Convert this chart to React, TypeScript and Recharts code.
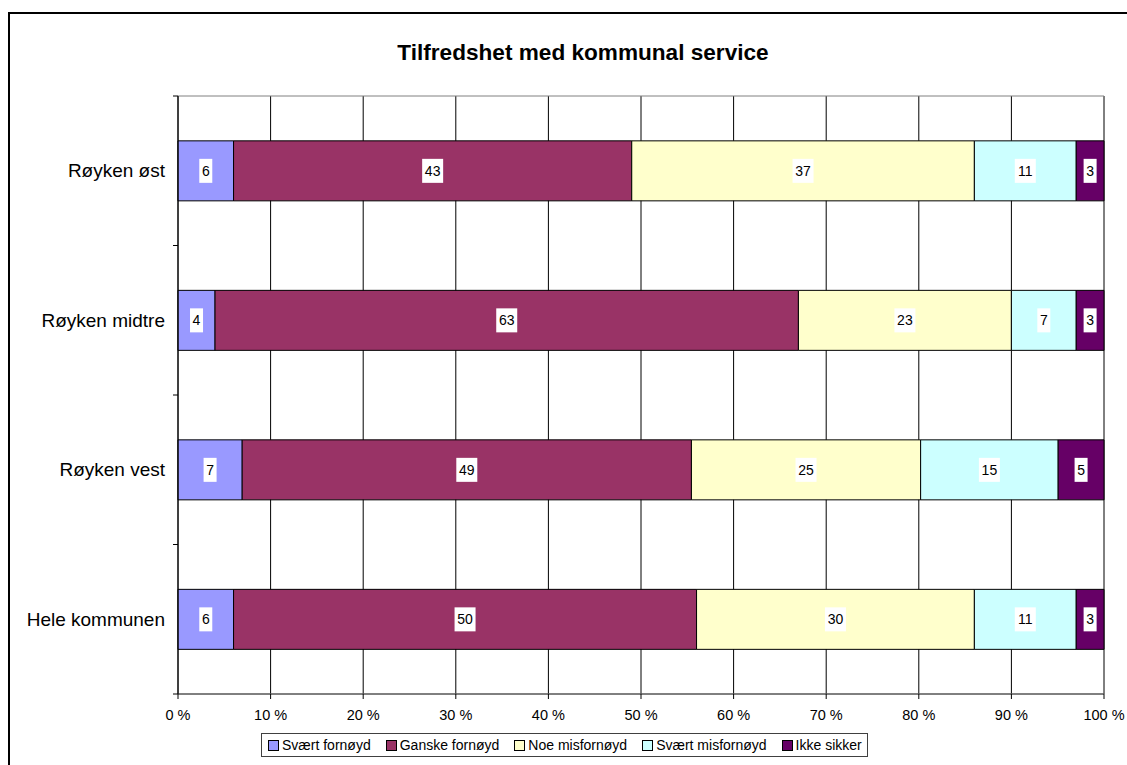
import React from 'react';
import { BarChart, Bar, XAxis, YAxis, CartesianGrid, LabelList, Legend, ReferenceArea } from 'recharts';

const FONT = 'Arial, "Liberation Sans", sans-serif';

const categories = ['Røyken øst', 'Røyken midtre', 'Røyken vest', 'Hele kommunen'];
const sværtFornøyd = [6, 4, 7, 6];
const ganskeFornøyd = [43, 63, 49, 50];
const noeMisfornøyd = [37, 23, 25, 30];
const sværtMisfornøyd = [11, 7, 15, 11];
const ikkeSikker = [3, 3, 5, 3];
const xTicks = [0, 0.1, 0.2, 0.3, 0.4, 0.5, 0.6, 0.7, 0.8, 0.9, 1];

const SERIES = [
  { key: 'sf', name: 'Svært fornøyd', color: '#9999FF', values: sværtFornøyd },
  { key: 'gf', name: 'Ganske fornøyd', color: '#993366', values: ganskeFornøyd },
  { key: 'nm', name: 'Noe misfornøyd', color: '#FFFFCC', values: noeMisfornøyd },
  { key: 'sm', name: 'Svært misfornøyd', color: '#CCFFFF', values: sværtMisfornøyd },
  { key: 'ik', name: 'Ikke sikker', color: '#660066', values: ikkeSikker },
];

const data = categories.map((name, i) => {
  const row: Record<string, string | number> = { name };
  SERIES.forEach((s) => {
    row[s.key] = s.values[i];
  });
  return row;
});

function ValueLabel(props: any) {
  const { x, y, width, height, value } = props;
  const s = String(value);
  const w = s.length * 8 + 5;
  const h = 24;
  const cx = x + width / 2;
  const cy = y + height / 2;
  return (
    <g>
      <rect x={cx - w / 2} y={cy - h / 2} width={w} height={h} fill="#fff" />
      <text x={cx} y={cy} dy="0.355em" textAnchor="middle" fontSize={14} fontFamily={FONT} fill="#000">
        {s}
      </text>
    </g>
  );
}

function CategoryTick(props: any) {
  const { x, y, payload, index, visibleTicksCount } = props;
  const off = payload.offset ?? 0;
  const lx = x + 8;
  return (
    <g>
      <line x1={lx} x2={lx + 5} y1={y - off} y2={y - off} stroke="#000" />
      {index === visibleTicksCount - 1 && (
        <line x1={lx} x2={lx + 5} y1={y + off} y2={y + off} stroke="#000" />
      )}
      <text x={x} y={y} dy="0.355em" textAnchor="end" fontSize={19} fontFamily={FONT} fill="#000">
        {payload.value}
      </text>
    </g>
  );
}

function LegendBox() {
  return (
    <div
      style={{
        display: 'inline-flex',
        alignItems: 'center',
        boxSizing: 'border-box',
        height: 24,
        border: '1px solid #404040',
        padding: '0 5px 0 6px',
        fontSize: 14,
        fontFamily: FONT,
        background: '#fff',
        whiteSpace: 'nowrap',
        color: '#000',
      }}
    >
      {SERIES.map((s, i) => (
        <span
          key={s.key}
          style={{ display: 'inline-flex', alignItems: 'center', marginRight: i < SERIES.length - 1 ? 15 : 0 }}
        >
          <span
            style={{
              display: 'inline-block',
              boxSizing: 'border-box',
              width: 11,
              height: 11,
              background: s.color,
              border: '1px solid #000',
              marginRight: 3,
            }}
          />
          {s.name}
        </span>
      ))}
    </div>
  );
}

export default function App() {
  return (
    <div style={{ position: 'absolute', left: 0, top: 0, width: 1127, height: 765, overflow: 'hidden', background: '#fff' }}>
      <div
        style={{
          position: 'absolute',
          left: 8,
          top: 12,
          width: 1127,
          height: 765,
          borderLeft: '2px solid #000',
          borderTop: '2px solid #000',
        }}
      />
      <div
        style={{
          position: 'absolute',
          left: 0,
          width: 1166,
          top: 40,
          textAlign: 'center',
          fontFamily: FONT,
          fontWeight: 'bold',
          fontSize: 22.6,
          color: '#000',
        }}
      >
        Tilfredshet med kommunal service
      </div>
      <div style={{ position: 'absolute', left: 0, top: 0 }}>
        <BarChart
          width={1127}
          height={765}
          data={data}
          layout="vertical"
          stackOffset="expand"
          barCategoryGap="30%"
          margin={{ top: 96, right: 23, bottom: 0, left: 0 }}
        >
          <CartesianGrid horizontal={false} stroke="#000" />
          <ReferenceArea x1={0} x2={1} fill="none" stroke="#808080" ifOverflow="visible" />
          <XAxis
            type="number"
            domain={[0, 1]}
            ticks={xTicks}
            tickFormatter={(v: number) => `${Math.round(v * 100)} %`}
            height={71}
            tickSize={5}
            tickMargin={11}
            axisLine={{ stroke: '#404040' }}
            tickLine={{ stroke: '#000' }}
            tick={{ fontSize: 14.5, fontFamily: FONT, fill: '#000' }}
            interval={0}
          />
          <YAxis
            type="category"
            dataKey="name"
            width={178}
            tickSize={5}
            tickMargin={8}
            axisLine={{ stroke: '#000' }}
            tickLine={{ stroke: 'none' }}
            tick={<CategoryTick />}
            interval={0}
          />
          {SERIES.map((s) => (
            <Bar
              key={s.key}
              dataKey={s.key}
              name={s.name}
              stackId="a"
              fill={s.color}
              stroke="#000"
              strokeWidth={1}
              isAnimationActive={false}
            >
              <LabelList dataKey={s.key} content={<ValueLabel />} />
            </Bar>
          ))}
          <Legend
            layout="horizontal"
            verticalAlign="middle"
            align="center"
            content={<LegendBox />}
            wrapperStyle={{ left: 261, top: 733, width: 'auto', height: 'auto' }}
          />
        </BarChart>
      </div>
    </div>
  );
}
